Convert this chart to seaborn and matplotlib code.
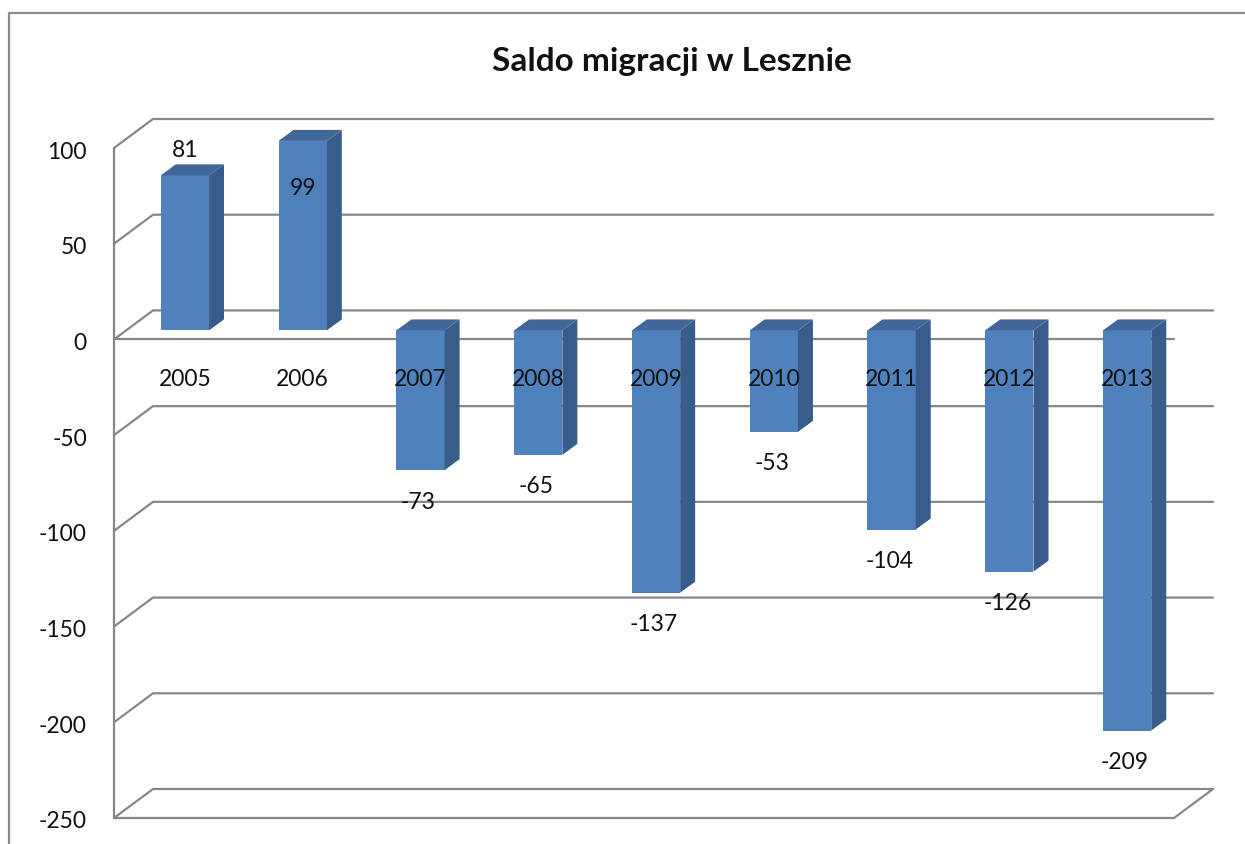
import numpy as np
import pandas as pd
import matplotlib
matplotlib.use("Agg")
import matplotlib.pyplot as plt
import seaborn as sns
from matplotlib.patches import Polygon
from matplotlib.lines import Line2D
from matplotlib.transforms import IdentityTransform

# data
years = ["2005", "2006", "2007", "2008", "2009", "2010", "2011", "2012", "2013"]
saldo = [81, 99, -73, -65, -137, -53, -104, -126, -209]
ytick_values = [100, 50, 0, -50, -100, -150, -200, -250]
title = "Saldo migracji w Lesznie"

FRONT = np.array([-12, -9])   # front wall offset from bar plane (pixels)
BACK = np.array([27, 20])     # back wall offset from bar plane (pixels)
BAR_DEPTH = np.array([15, 11])
GRID = "#878787"
FACE = "#4F81BD"
SIDE = "#385D8A"
TOP = "#41679A"
TXT = "#111111"

sns.set_theme(style="white")
plt.rcParams["font.family"] = ["Lato", "DejaVu Sans"]

W, H = 1245, 845
fig = plt.figure(figsize=(W / 100, H / 100), dpi=100)
fig.patch.set_facecolor("white")
ax = fig.add_axes([126 / W, 35 / H, 1060 / W, 670 / H])

df = pd.DataFrame({"year": years, "saldo": saldo})
sns.barplot(data=df, x="year", y="saldo", ax=ax, color=FACE, saturation=1,
            width=0.41, zorder=3, linewidth=0)
ax.set_xlim(-0.5, 8.5)
ax.set_ylim(min(ytick_values), max(ytick_values))
ax.axis("off")

xmin, xmax = ax.get_xlim()
ident = IdentityTransform()


def px(x, y):
    return ax.transData.transform((x, y))


def pline(points, **kw):
    pts = np.array(points)
    ax.add_line(Line2D(pts[:, 0], pts[:, 1], transform=ident,
                       clip_on=False, color=GRID, lw=1.6, zorder=1, **kw))


def ptext(xy, s, **kw):
    ax.text(xy[0], xy[1], s, transform=ident, clip_on=False, color=TXT, **kw)


# walls / gridlines in perspective
for v in ytick_values:
    fl = px(xmin, v) + FRONT
    bl = px(xmin, v) + BACK
    br = px(xmax, v) + BACK
    pline([fl, bl, br])
    if v in (0, min(ytick_values)):
        fr = px(xmax, v) + FRONT
        pline([fl, fr])
        if v == min(ytick_values):
            pline([fr, br])
    ptext(fl + np.array([-27, -3]), str(v), ha="right", va="center", fontsize=16.5)

pline([px(xmin, max(ytick_values)) + FRONT, px(xmin, min(ytick_values)) + FRONT])

# 3d faces of bars
for patch in ax.patches:
    bb = patch.get_bbox()
    x0, x1 = bb.x0, bb.x1
    ylo, yhi = min(bb.y0, bb.y1), max(bb.y0, bb.y1)
    side = [px(x1, ylo), px(x1, yhi), px(x1, yhi) + BAR_DEPTH, px(x1, ylo) + BAR_DEPTH]
    top = [px(x0, yhi), px(x1, yhi), px(x1, yhi) + BAR_DEPTH, px(x0, yhi) + BAR_DEPTH]
    ax.add_patch(Polygon(side, closed=True, transform=ident,
                         facecolor=SIDE, edgecolor="none", zorder=3, clip_on=False))
    ax.add_patch(Polygon(top, closed=True, transform=ident,
                         facecolor=TOP, edgecolor="none", zorder=3, clip_on=False))

# category labels and value labels
px_per_unit = (px(0, 100)[1] - px(0, 0)[1]) / 100
for i, (yr, v) in enumerate(zip(years, saldo)):
    ptext(px(i, 0) + np.array([0, -48]), yr, ha="center", va="center",
          fontsize=16.5, zorder=5)
    if v >= 0:
        dy = 26 if v + 30 / px_per_unit <= max(ytick_values) else -47
    else:
        dy = -31
    ptext(px(i, v) + np.array([-2 if v < 0 else 0, dy]), str(v), ha="center",
          va="center", fontsize=16.5, zorder=5)

fig.text(672 / W, 1 - 62 / H, title, ha="center", va="center",
         fontsize=24, fontweight="bold", color=TXT)

# chart area border (cut off at right and bottom)
fig.add_artist(Line2D([9 / W, 9 / W, 1], [0, 1 - 14 / H, 1 - 14 / H],
                      transform=fig.transFigure, color="#8a8a8a", lw=1.6))

fig.savefig("out.png", dpi=100)
